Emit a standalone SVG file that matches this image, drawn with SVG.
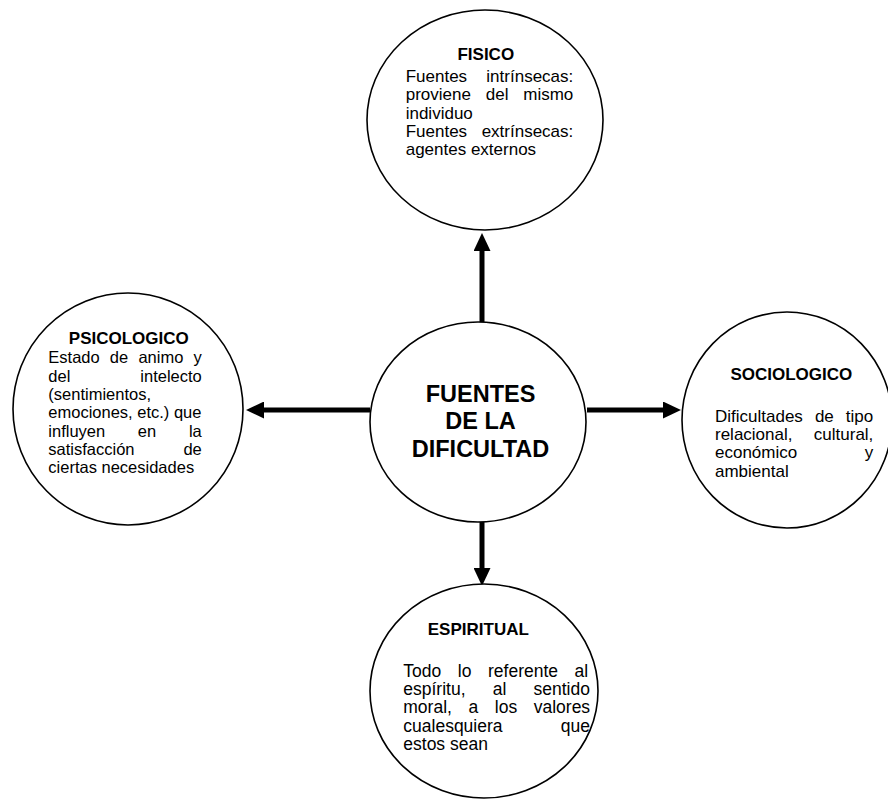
<svg xmlns="http://www.w3.org/2000/svg" width="888" height="800" viewBox="0 0 888 800">
  <style>
    .bg { fill: #ffffff; }
    .node { fill: #ffffff; stroke: #000000; stroke-width: 1.6; }
    .title { font-family: "Liberation Sans", Arial, sans-serif; font-weight: bold; font-size: 17px; fill: #000; text-anchor: middle; }
    .body { font-family: "Liberation Sans", Arial, sans-serif; font-size: 17px; fill: #000; }
    .small { font-size: 16.5px; }
    .large { font-size: 17.5px; }
    .center { font-family: "Liberation Sans", Arial, sans-serif; font-weight: bold; font-size: 23.5px; fill: #000; text-anchor: middle; }
    .edge { stroke: #000000; stroke-width: 5; fill: none; marker-end: url(#head); }
  </style>
  <defs>
    <marker id="head" markerUnits="userSpaceOnUse" markerWidth="18" markerHeight="17" refX="1" refY="8.5" orient="auto">
      <path d="M0,0 L18,8.5 L0,17 Z" fill="#000"/>
    </marker>
  </defs>

  <rect class="bg" x="0" y="0" width="888" height="800"/>

  <!-- arrows from the centre to the four sources -->
  <g id="connectors">
    <line class="edge" x1="482" y1="322" x2="482" y2="250"/>
    <line class="edge" x1="482" y1="522" x2="482" y2="569"/>
    <line class="edge" x1="370" y1="410" x2="263" y2="410"/>
    <line class="edge" x1="587" y1="410" x2="664" y2="410"/>
  </g>

  <g id="center">
    <ellipse class="node" cx="478" cy="422" rx="108" ry="100"/>
    <text class="center" x="480.5" y="401.7">FUENTES</text>
    <text class="center" x="480.5" y="429.3">DE LA</text>
    <text class="center" x="480.5" y="457">DIFICULTAD</text>
  </g>

  <g id="fisico">
    <ellipse class="node" cx="485" cy="120" rx="118" ry="110"/>
    <text class="title" x="485.8" y="60">FISICO</text>
    <text class="body" x="405.7" y="82" word-spacing="14.5">Fuentes intrínsecas:</text>
    <text class="body" x="405.7" y="100.3" word-spacing="10.1">proviene del mismo</text>
    <text class="body" x="405.7" y="118.7">individuo</text>
    <text class="body" x="405.7" y="137" word-spacing="9.8">Fuentes extrínsecas:</text>
    <text class="body" x="405.7" y="155.3">agentes externos</text>
  </g>

  <g id="psicologico">
    <ellipse class="node" cx="128" cy="409" rx="115" ry="116"/>
    <text class="title" x="128.8" y="343.5">PSICOLOGICO</text>
    <text class="body small" x="48.3" y="363.3" word-spacing="5.6">Estado de animo y</text>
    <text class="body small" x="48.3" y="381.7" word-spacing="65.4">del intelecto</text>
    <text class="body small" x="48.3" y="400">(sentimientos,</text>
    <text class="body small" x="48.3" y="418.3">emociones, etc.) que</text>
    <text class="body small" x="48.3" y="436.7" word-spacing="28.1">influyen en la</text>
    <text class="body small" x="48.3" y="455" word-spacing="44.3">satisfacción de</text>
    <text class="body small" x="48.3" y="473.3">ciertas necesidades</text>
  </g>

  <g id="sociologico">
    <ellipse class="node" cx="787" cy="420" rx="105" ry="108"/>
    <text class="title" x="791.3" y="380">SOCIOLOGICO</text>
    <text class="body" x="715" y="421.7" word-spacing="7.3">Dificultades de tipo</text>
    <text class="body" x="715" y="440" word-spacing="16.6">relacional, cultural,</text>
    <text class="body" x="715" y="458.3" word-spacing="62.9">económico y</text>
    <text class="body" x="715" y="476.7">ambiental</text>
  </g>

  <g id="espiritual">
    <ellipse class="node" cx="484" cy="691" rx="114" ry="107"/>
    <text class="title" x="478.3" y="635">ESPIRITUAL</text>
    <text class="body large" x="403.3" y="676.7" word-spacing="11.7">Todo lo referente al</text>
    <text class="body large" x="403.3" y="695" word-spacing="22.3">espíritu, al sentido</text>
    <text class="body large" x="403.3" y="713.3" word-spacing="11.7">moral, a los valores</text>
    <text class="body large" x="403.3" y="731.7" word-spacing="53.4">cualesquiera que</text>
    <text class="body large" x="403.3" y="750">estos sean</text>
  </g>
</svg>
